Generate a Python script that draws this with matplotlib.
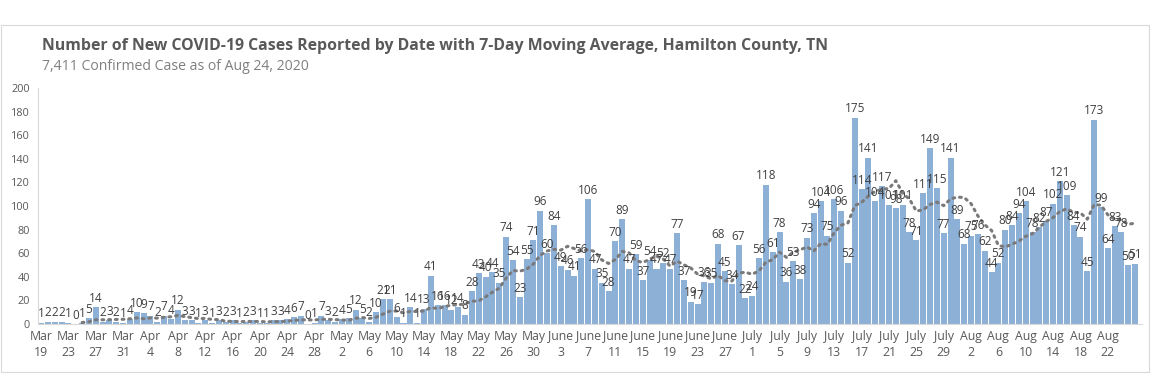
import numpy as np
import pandas as pd
import matplotlib
matplotlib.use("Agg")
import matplotlib.pyplot as plt
from matplotlib.patches import Rectangle

# ---- data ----
start_date = "2020-03-19"
cases = [
    # Mar 19-31
    1, 2, 2, 2, 1, 0, 1, 5, 14, 2, 3, 2, 1,
    # Apr 1-30
    4, 10, 9, 7, 2, 7, 4, 12, 3, 3, 1, 3, 1, 3, 2, 3, 1, 2, 3, 1,
    1, 3, 3, 4, 6, 7, 0, 1, 7, 3,
    # May 1-31
    2, 4, 5, 12, 5, 2, 10, 21, 21, 6, 1, 14, 1, 13, 41, 16, 16, 12, 14, 8,
    28, 43, 40, 44, 35, 74, 54, 23, 55, 71, 96,
    # June 1-30
    60, 84, 49, 46, 41, 56, 106, 47, 35, 28, 70, 89, 47, 59, 37, 54, 47, 52, 47, 77,
    37, 19, 17, 36, 35, 68, 45, 34, 67, 22,
    # July 1-31
    24, 56, 118, 61, 78, 36, 53, 38, 73, 94, 104, 75, 106, 96, 52, 175, 114, 141, 104, 117,
    101, 98, 101, 78, 71, 111, 149, 115, 77, 141, 89,
    # Aug 1-26
    68, 75, 76, 62, 44, 52, 80, 84, 94, 104, 78, 82, 87, 102, 121, 109, 84, 74, 45, 173,
    99, 64, 83, 78, 50, 51,
]
title = "Number of New COVID-19 Cases Reported by Date with 7-Day Moving Average, Hamilton County, TN"
subtitle = "7,411 Confirmed Case as of Aug 24, 2020"
ma_window = 7
tick_step = 4
yticks = list(range(0, 201, 20))
month_names = {3: "Mar", 4: "Apr", 5: "May", 6: "June", 7: "July", 8: "Aug"}

dates = pd.date_range(start_date, periods=len(cases), freq="D")
x = np.arange(len(cases))
ma = pd.Series(cases).rolling(ma_window).mean()

# ---- figure ----
W, H = 1161, 375
fig = plt.figure(figsize=(W / 100, H / 100), dpi=100)
plt.rcParams['font.family'] = ['Open Sans', 'DejaVu Sans']

# outer border
fig.patches.append(Rectangle((1 / W, 3 / H), 1148 / W, 347 / H, transform=fig.transFigure,
                             fill=False, edgecolor='#d9d9d9', linewidth=0.8))

ax = fig.add_axes([38 / W, 1 - 324 / H, (1142 - 38) / W, (324 - 88) / H])

bar_color = '#8DB0D7'
ax.bar(x, cases, width=0.88, color=bar_color, edgecolor='none', zorder=2)
ax.plot(x, ma, linestyle=(0, (0.6, 1.6)), color='#7a7a7a', linewidth=2.2,
        dash_capstyle='round', zorder=3)

for xi, v in zip(x, cases):
    ax.text(xi, v + 2.0, str(v), ha='center', va='bottom', fontsize=8.5,
            color='#404040', zorder=4)

ax.set_xlim(-0.45, len(cases) - 0.0)
ax.set_ylim(0, 200)
ax.set_yticks(yticks)
ax.set_yticklabels([str(t) for t in yticks], fontsize=7.8, color='#595959')

tick_idx = x[:-1][::tick_step]
ax.set_xticks(tick_idx)
ax.set_xticklabels([f"{month_names[d.month]}\n{d.day}" for d in dates[tick_idx]],
                   fontsize=8.8, color='#595959', linespacing=1.3)
ax.tick_params(axis='both', length=0, pad=4)
ax.tick_params(axis='y', pad=6)

for s in ['top', 'right']:
    ax.spines[s].set_visible(False)
ax.spines['left'].set_color('#d9d9d9')
ax.spines['left'].set_linestyle((0, (1, 1)))
ax.spines['left'].set_linewidth(0.8)
ax.spines['bottom'].set_color('#d9d9d9')
ax.spines['bottom'].set_linewidth(0.8)

fig.text(42 / W, 1 - 46 / H, title, fontsize=11.4, fontweight='bold', color='#595959',
         ha='left', va='center')
fig.text(42 / W, 1 - 67 / H, subtitle, fontsize=10.1, color='#7f7f7f',
         ha='left', va='center')

fig.savefig('out.png', dpi=100)
